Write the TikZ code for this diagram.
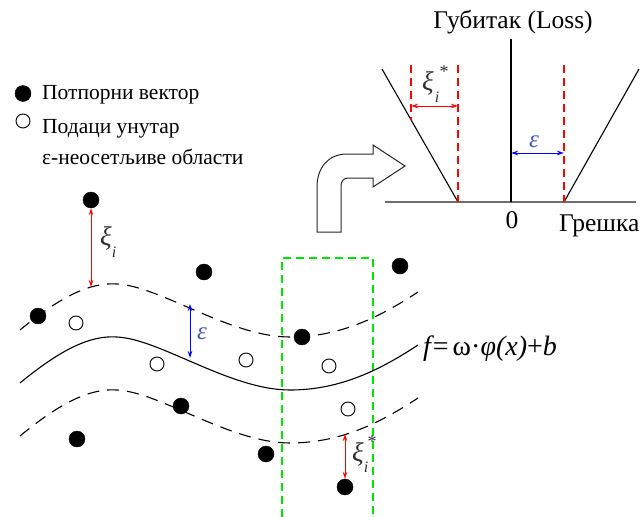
\documentclass[tikz,border=0pt]{standalone}
\usepackage{fontspec}
\setmainfont{Liberation Serif}
\newfontfamily\serifrm{Liberation Serif}
\usetikzlibrary{arrows.meta}
\definecolor{epsblue}{RGB}{70,90,190}
\definecolor{xigray}{RGB}{45,45,45}
\definecolor{mygreen}{RGB}{0,225,0}
\definecolor{axisgray}{RGB}{110,110,110}
\tikzset{
  txt/.style={font=\serifrm\fontsize{21.5}{25}\selectfont, inner sep=0pt},
  bigtxt/.style={font=\serifrm\fontsize{25.5}{29}\selectfont, inner sep=0pt},
  xitxt/.style={font=\serifrm\fontsize{27}{30}\selectfont\itshape, text=xigray, inner sep=0pt},
  subtxt/.style={font=\serifrm\fontsize{16}{16}\selectfont\itshape, text=xigray, inner sep=0pt},
  startxt/.style={font=\serifrm\fontsize{18}{18}\selectfont, text=xigray, inner sep=0pt},
  epstxt/.style={font=\serifrm\fontsize{25}{28}\selectfont\itshape, text=epsblue, inner sep=0pt},
  sv/.style={circle, fill=black, draw=black, minimum size=16pt, inner sep=0pt},
  dp/.style={circle, draw=black, line width=0.9pt, fill=white, minimum size=14pt, inner sep=0pt},
  redarr/.style={red, line width=1pt, {Stealth[length=7pt,width=4.5pt]}-{Stealth[length=7pt,width=4.5pt]}},
  bluearr/.style={blue, line width=1pt, {Stealth[length=7pt,width=4.5pt]}-{Stealth[length=7pt,width=4.5pt]}},
  wavedash/.style={black, line width=1.1pt, dash pattern=on 12pt off 8pt},
  wavesolid/.style={black, line width=1.1pt},
  reddash/.style={red, line width=1.1pt, dash pattern=on 8pt off 5pt},
  greendash/.style={mygreen, line width=1.1pt, dash pattern=on 8pt off 5pt},
}
\newcommand{\svrwave}[2]{%
  \draw[#1, shift={(0,#2)}] (20,383) .. controls (60,350) and (90,335) .. (117,337)
     .. controls (160,339) and (230,390) .. (290,390)
     .. controls (340,390) and (380,370) .. (418,345);}
\begin{document}
\begin{tikzpicture}[x=1pt,y=-1pt]
\useasboundingbox (0,0) rectangle (641,517);

% ---------- legend ----------
\node[sv] (lsv) at (23,93.5) {};
\node[txt, anchor=base west] (lt1) at (42,99) {Потпорни вектор};
\node[dp] (ldp) at (23,121) {};
\node[txt, anchor=base west] (lt2) at (42,133) {Подаци унутар};
\node[txt, anchor=base west] (lt3) at (42,164) {ε-неосетљиве области};

% ---------- loss function ----------
\node[bigtxt, anchor=base] (title) at (513,28) {Губитак (Loss)};
\coordinate (ytop) at (511,39);
\coordinate (orig) at (511,202);
\coordinate (xl) at (385,202);
\coordinate (xr) at (636,202);
\draw[axisgray, line width=2pt] (xl) -- (xr);
\draw[black, line width=1.1pt] (ytop) -- (orig);
\coordinate (vl1) at (382,69);
\coordinate (vl2) at (458,202);
\coordinate (vr1) at (564,202);
\coordinate (vr2) at (639,69);
\draw[black, line width=1.1pt] (vl1) -- (vl2);
\draw[black, line width=1.1pt] (vr1) -- (vr2);
\coordinate (r1t) at (411,65);
\coordinate (r1b) at (411,120);
\coordinate (r2t) at (458,65);
\coordinate (r3t) at (564,65);
\draw[reddash] (r1t) -- (r1b);
\draw[reddash] (r2t) -- (vl2);
\draw[reddash] (r3t) -- (vr1);
\coordinate (ka) at (411,106);
\coordinate (kb) at (458,106);
\draw[redarr] (ka) -- (kb);
\node[xitxt] (kx) at (428,83) {ξ};
\node[subtxt] (ki) at (437,97) {i};
\node[startxt] (ks) at (444,72) {*};
\coordinate (ea) at (511,153);
\coordinate (eb) at (564,153);
\draw[bluearr] (ea) -- (eb);
\node[epstxt] (elab) at (534,142) {ε};
\node[bigtxt, anchor=base] (zero) at (512,228) {0};
\node[bigtxt, anchor=base west] (err) at (559,231) {Грешка};

% ---------- hollow bent arrow ----------
\draw[black!85, line width=1pt, line join=miter]
  (317,232) -- (317,187) .. controls (317,168) and (328,154) .. (347,154)
  -- (373,154) -- (373,145) -- (405,166) -- (373,187) -- (373,178)
  -- (348,178) .. controls (344,178) and (341,181) .. (341,186)
  -- (341,232) -- cycle;

% ---------- regression tube ----------
\coordinate (g1) at (282,517);
\coordinate (g2) at (282,258);
\coordinate (g3) at (373,258);
\coordinate (g4) at (373,517);
\draw[greendash] (g1) -- (g2) -- (g3) -- (g4);

\svrwave{wavedash}{-53}
\svrwave{wavesolid}{0}
\svrwave{wavedash}{53}
\node[font=\serifrm\fontsize{28}{32}\selectfont, inner sep=0pt, anchor=base west] (flab) at (423,355)
  {\itshape f\hspace{2pt}\upshape=\hspace{4pt}ω·\itshape φ(x)\upshape+\itshape b};

% support vectors
\node[sv] (s1) at (91,200) {};
\node[sv] (s2) at (204,272) {};
\node[sv] (s3) at (38,316) {};
\node[sv] (s4) at (302,337) {};
\node[sv] (s5) at (400,266) {};
\node[sv] (s6) at (181,406) {};
\node[sv] (s7) at (77,439) {};
\node[sv] (s8) at (266,454) {};
\node[sv] (s9) at (345,487) {};

% data inside tube
\node[dp] (d1) at (76,323) {};
\node[dp] (d2) at (157,364) {};
\node[dp] (d3) at (246,360) {};
\node[dp] (d4) at (329,366) {};
\node[dp] (d5) at (348,409) {};

% slack arrows
\coordinate (u1) at (91,287);
\draw[redarr] (s1) -- (u1);
\node[xitxt] (x1) at (106,238) {ξ};
\node[subtxt] (x1i) at (114,252) {i};

\coordinate (u2) at (345,434);
\draw[redarr] (u2) -- (s9);
\node[xitxt] (x2) at (358,454) {ξ};
\node[subtxt] (x2i) at (366,467) {i};
\node[startxt] (x2s) at (372,442) {*};

% epsilon arrow
\coordinate (e1) at (190,304);
\coordinate (e2) at (190,358);
\draw[bluearr] (e1) -- (e2);
\node[epstxt] (e1lab) at (202,334) {ε};
\end{tikzpicture}
\end{document}
